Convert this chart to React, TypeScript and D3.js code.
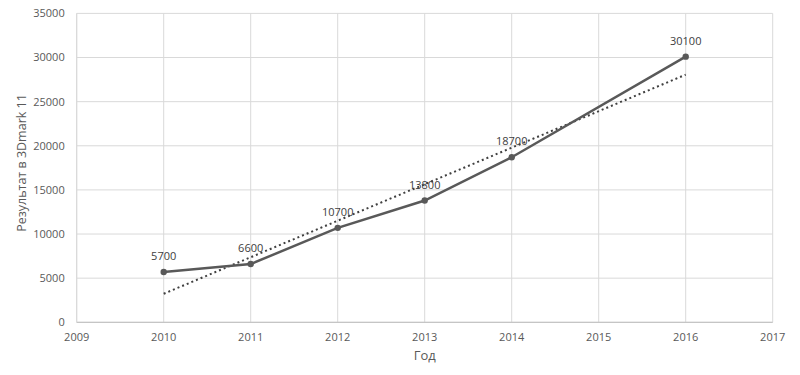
import React, { useMemo } from 'react';
import * as d3 from 'd3';

const years = [2010, 2011, 2012, 2013, 2014, 2016];
const scores = [5700, 6600, 10700, 13800, 18700, 30100];
const xTicks = [2009, 2010, 2011, 2012, 2013, 2014, 2015, 2016, 2017];
const yTicks = [0, 5000, 10000, 15000, 20000, 25000, 30000, 35000];

const width = 800;
const height = 375;
const margin = { top: 13.4, right: 27.3, bottom: 52.7, left: 76.7 };

const font = '"Open Sans", "Noto Sans", sans-serif';

export default function App() {
  const x = useMemo(
    () => d3.scaleLinear().domain([2009, 2017]).range([margin.left, width - margin.right]),
    []
  );
  const y = useMemo(
    () => d3.scaleLinear().domain([0, 35000]).range([height - margin.bottom, margin.top]),
    []
  );

  const points = years.map((yr, i) => ({ yr, v: scores[i] }));

  const line = d3
    .line<{ yr: number; v: number }>()
    .x((d) => x(d.yr))
    .y((d) => y(d.v));

  // linear trend (least squares) over the series, like Excel's trendline
  const mx = d3.mean(years)!;
  const my = d3.mean(scores)!;
  const sxy = d3.sum(years, (yr, i) => (yr - mx) * (scores[i] - my));
  const sxx = d3.sum(years, (yr) => (yr - mx) ** 2);
  const slope = sxy / sxx;
  const trend = (yr: number) => my + slope * (yr - mx);
  const x0 = d3.min(years)!;
  const x1 = d3.max(years)!;

  return (
    <div style={{ position: 'fixed', left: 0, top: 0 }}>
      <svg width={width} height={height} style={{ display: 'block', background: '#fff' }}>
        {/* grid */}
        {yTicks.map((t) => (
          <line
            key={'gy' + t}
            x1={margin.left}
            x2={width - margin.right}
            y1={y(t)}
            y2={y(t)}
            stroke="#d9d9d9"
            strokeWidth={1}
          />
        ))}
        {xTicks.map((t) => (
          <line
            key={'gx' + t}
            x1={x(t)}
            x2={x(t)}
            y1={margin.top}
            y2={height - margin.bottom}
            stroke="#d9d9d9"
            strokeWidth={1}
          />
        ))}
        {/* axes */}
        <line
          x1={margin.left}
          x2={width - margin.right}
          y1={y(0)}
          y2={y(0)}
          stroke="#bfbfbf"
          strokeWidth={1}
        />
        <line
          x1={margin.left}
          x2={margin.left}
          y1={margin.top}
          y2={y(0)}
          stroke="#d9d9d9"
          strokeWidth={1}
        />

        {/* tick labels */}
        {yTicks.map((t) => (
          <text
            key={'ty' + t}
            x={margin.left - 12}
            y={y(t)}
            dy="0.35em"
            textAnchor="end"
            fontFamily={font}
            fontSize={11}
            fill="#595959"
          >
            {t}
          </text>
        ))}
        {xTicks.map((t) => (
          <text
            key={'tx' + t}
            x={x(t)}
            y={y(0) + 19}
            textAnchor="middle"
            fontFamily={font}
            fontSize={11}
            fill="#595959"
          >
            {t}
          </text>
        ))}

        {/* axis titles */}
        <text
          x={(margin.left + width - margin.right) / 2}
          y={360}
          textAnchor="middle"
          fontFamily={font}
          fontSize={13}
          fill="#595959"
        >
          Год
        </text>
        <text
          transform={`translate(26, 163) rotate(-90)`}
          textAnchor="middle"
          fontFamily={font}
          fontSize={12.5}
          fill="#595959"
        >
          Результат в 3Dmark 11
        </text>

        {/* trendline */}
        <line
          x1={x(x0)}
          y1={y(trend(x0))}
          x2={x(x1)}
          y2={y(trend(x1))}
          stroke="#404040"
          strokeWidth={2}
          strokeDasharray="2 3"
        />

        {/* series */}
        <path d={line(points) ?? ''} fill="none" stroke="#595959" strokeWidth={2.5} />
        {points.map((p) => (
          <circle key={'c' + p.yr} cx={x(p.yr)} cy={y(p.v)} r={3.2} fill="#595959" />
        ))}
        {points.map((p) => (
          <text
            key={'l' + p.yr}
            x={x(p.yr)}
            y={y(p.v) - 12}
            textAnchor="middle"
            fontFamily={font}
            fontSize={11}
            fill="#404040"
          >
            {p.v}
          </text>
        ))}
      </svg>
    </div>
  );
}
